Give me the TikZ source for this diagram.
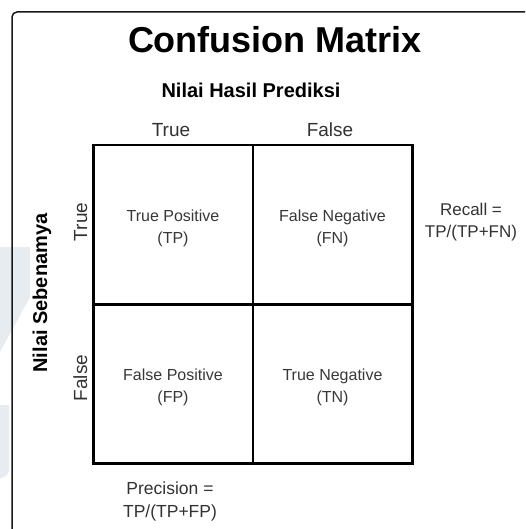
\documentclass[tikz,border=0pt]{standalone}
\usepackage{fontspec}
\setmainfont{Liberation Sans}
\definecolor{marktint}{RGB}{231,236,241}
\begin{document}
\begin{tikzpicture}[x=1pt,y=-1pt,
  cell/.style={draw=black, line width=2.5pt, minimum width=159.5pt, minimum height=159pt, inner sep=0pt, anchor=north west},
  celltext/.style={align=center, text=black!78, font=\fontsize{16}{22}\selectfont, inner sep=0pt},
  axislabel/.style={text=black!80, font=\fontsize{19}{22}\selectfont, inner sep=0pt, anchor=base},
  metric/.style={align=center, text=black!80, inner sep=0pt},
  heading/.style={font=\bfseries\fontsize{20}{24}\selectfont, inner sep=0pt, anchor=base},
  mark tint/.style={fill=marktint, draw=none}]
  \clip (0,0) rectangle (525,529);
  \fill[white] (0,0) rectangle (525,529);

  % faint background emblem
  \fill[mark tint] (0,247) rectangle (30,297);
  \fill[mark tint] (0,297) -- (30,297) -- (0,352) -- cycle;
  \fill[mark tint] (0,405) -- (9,405) -- (9,470) to[out=-90,in=0] (0,478) -- cycle;

  % outer frame
  \draw[line width=1.5pt, black!90, rounded corners=5pt] (12,560) -- (12,12) -- (560,12);

  % headings
  \node[font=\bfseries\fontsize{36}{40}\selectfont, inner sep=0pt, anchor=base] (title) at (275,53) {Confusion Matrix};
  \node[heading] (pred) at (251,98) {Nilai Hasil Prediksi};
  \node[heading, rotate=90] (actual) at (47,293) {Nilai Sebenamya};

  % column and row labels
  \node[axislabel] (colT) at (171,137) {True};
  \node[axislabel] (colF) at (330,137) {False};
  \node[axislabel, rotate=90] (rowT) at (87,222) {True};
  \node[axislabel, rotate=90] (rowF) at (87,378) {False};

  % matrix cells
  \node[cell] (tp) at (92,144) {};
  \node[cell] (fn) at (251.5,144) {};
  \node[cell] (fp) at (92,303) {};
  \node[cell] (tn) at (251.5,303) {};

  \node[celltext, yshift=-3.5pt] (tpl) at (tp.center) {True Positive\\(TP)};
  \node[celltext, yshift=-3.5pt] (fnl) at (fn.center) {False Negative\\(FN)};
  \node[celltext, yshift=-3.5pt] (fpl) at (fp.center) {False Positive\\(FP)};
  \node[celltext, yshift=-3.5pt] (tnl) at (tn.center) {True Negative\\(TN)};

  % metrics
  \node[metric, font=\fontsize{17}{22}\selectfont] (recall) at (471,222) {Recall =\\TP/(TP+FN)};
  \node[metric, font=\fontsize{17.5}{23}\selectfont] (precision) at (170,501) {Precision =\\TP/(TP+FP)};
\end{tikzpicture}
\end{document}
